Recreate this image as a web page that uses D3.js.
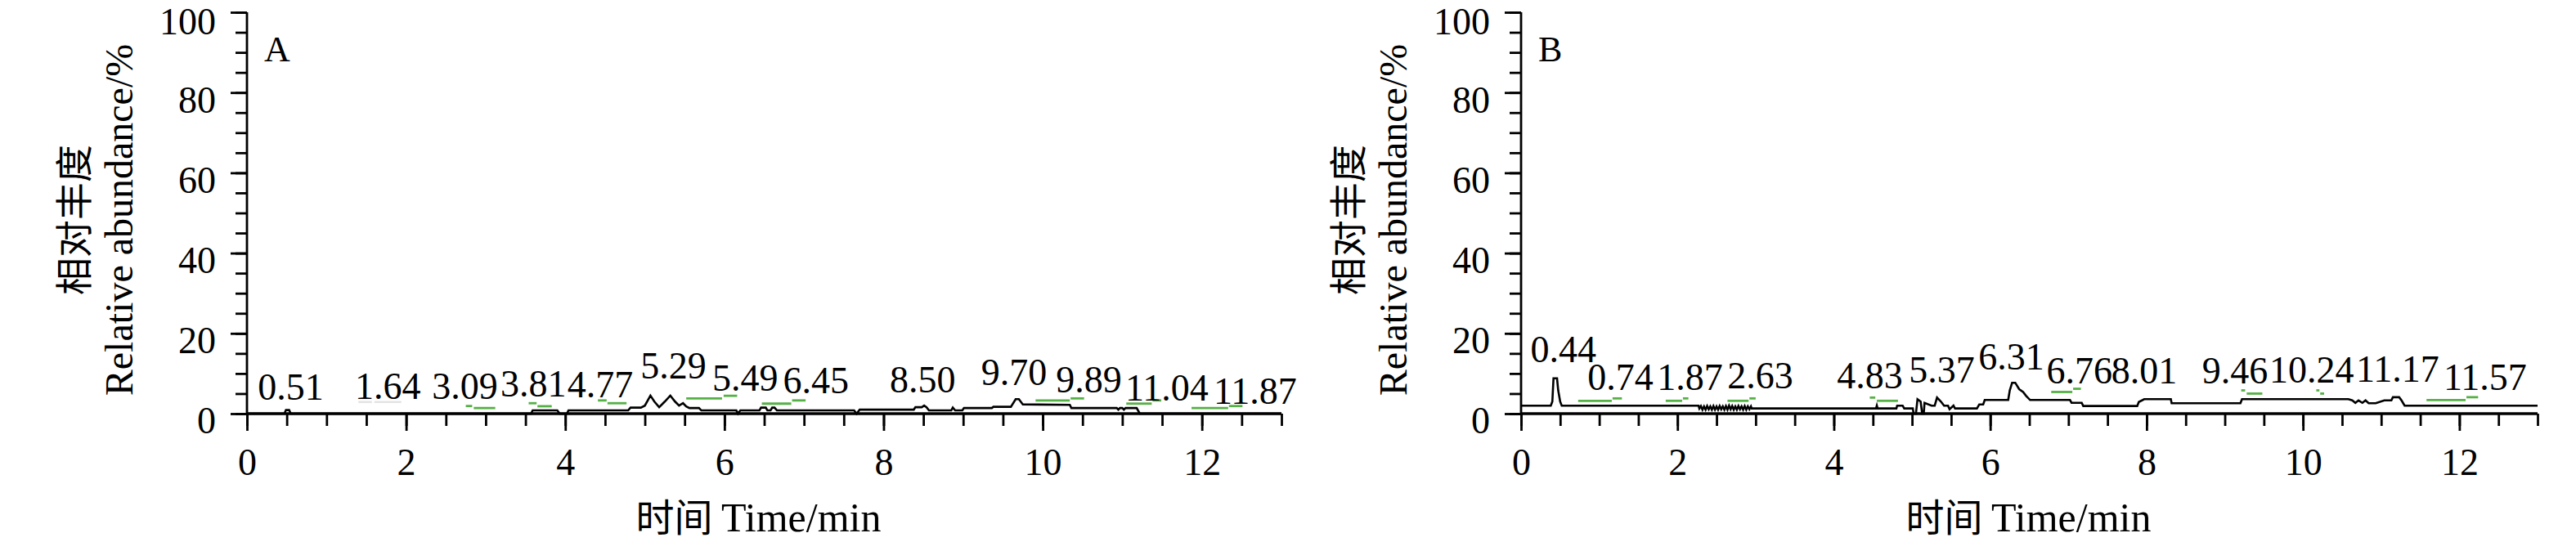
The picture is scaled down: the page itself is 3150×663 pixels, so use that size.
<!DOCTYPE html>
<html><head><meta charset="utf-8">
<script src="https://cdn.jsdelivr.net/npm/d3@7"></script>
<style>body{margin:0;background:#fff}svg{display:block}</style>
</head><body>
<svg id="c" width="3150" height="663"></svg>
<script>
// ---------- data ----------
const xMajorTicks = [0, 2, 4, 6, 8, 10, 12];
const yMajorTicks = [0, 20, 40, 60, 80, 100];
const xDomain = [0, 13];
const yDomain = [0, 100];

const traceA = [
  [0,0],[0.47,0],[0.49,0.9],[0.53,0.9],[0.55,0],[3.57,0],[3.59,0.8],[3.90,0.8],[3.93,0],[4.02,0],[4.04,0.8],
  [4.79,0.8],[4.82,1.5],[4.95,1.5],[5.00,2.0],[5.07,4.5],[5.12,3.0],[5.18,1.6],[5.25,3.0],[5.32,4.5],[5.38,3.0],
  [5.43,2.0],[5.48,2.6],[5.52,1.8],[5.56,1.4],[5.68,1.4],[5.71,0.8],[6.15,0.8],[6.17,0],[6.20,0.8],[6.44,0.8],
  [6.46,1.5],[6.52,1.5],[6.54,0.8],[6.58,0.8],[6.60,1.5],[6.63,1.5],[6.66,0.8],[7.63,0.8],[7.66,0],[7.70,1.0],
  [8.38,1.0],[8.40,1.6],[8.48,1.6],[8.51,2.0],[8.54,1.6],[8.57,0.8],[8.85,0.8],[8.87,1.5],[8.90,0.8],[8.99,0.8],
  [9.01,1.4],[9.36,1.4],[9.38,1.7],[9.60,1.7],[9.66,3.6],[9.70,3.6],[9.75,2.3],[10.34,2.2],[10.36,1.4],[10.93,1.4],
  [10.95,1.0],[10.97,1.4],[11.00,1.4],[11.02,1.0],[11.04,1.4],[11.18,1.4],[11.22,0],[13,0]
];
const traceB = [
  [0,2.0],[0.38,2.0],[0.40,3.0],[0.415,8.8],[0.46,8.8],[0.475,5.8],[0.50,3.0],[0.52,2.0],[2.27,2.0],[2.28,1.3],
  [2.30,1.9],[2.32,1.0],[2.34,1.8],[2.36,1.0],[2.38,1.9],[2.40,1.1],[2.42,1.8],[2.44,1.0],[2.46,1.9],[2.48,1.0],
  [2.50,1.8],[2.52,1.0],[2.54,1.9],[2.56,1.1],[2.58,1.8],[2.60,1.0],[2.62,1.9],[2.64,1.0],[2.66,2.0],[2.68,1.1],
  [2.70,1.9],[2.72,1.0],[2.74,1.8],[2.76,1.0],[2.78,1.9],[2.80,1.1],[2.82,1.8],[2.84,1.0],[2.86,1.9],[2.88,1.0],
  [2.90,1.8],[2.92,1.1],[2.94,1.8],[2.95,1.3],[4.54,1.3],[4.55,2.0],[4.56,1.3],[4.80,1.3],
  [4.81,2.0],[4.88,2.0],[4.90,1.3],[5.01,1.3],[5.02,0],[5.05,0],[5.07,3.6],[5.11,3.0],[5.13,0],[5.15,0],[5.16,2.7],
  [5.25,2.0],[5.29,2.0],[5.32,4.0],[5.37,3.0],[5.41,2.0],[5.46,2.0],[5.48,1.1],[5.53,2.0],[5.55,1.3],[5.83,1.3],
  [5.86,2.3],[5.91,2.3],[5.93,3.4],[6.23,3.4],[6.25,5.8],[6.28,7.7],[6.32,7.7],[6.37,6.1],[6.42,5.4],[6.46,4.4],
  [6.51,3.4],[7.02,3.4],[7.04,2.7],[7.17,2.7],[7.19,1.9],[7.88,1.9],[7.90,2.9],[7.97,3.6],[8.31,3.6],[8.32,2.6],
  [9.20,2.6],[9.22,3.6],[10.58,3.6],[10.63,3.3],[10.67,2.7],[10.71,3.3],[10.76,2.7],[10.80,3.3],[10.84,2.6],
  [10.93,2.6],[11.04,3.3],[11.13,3.3],[11.15,4.1],[11.23,4.1],[11.26,3.3],[11.30,2.0],[13,2.0]
];

// green integration markers: [start, end, level]
const markersA = [
  [2.75,2.83,1.9],[2.85,3.12,1.4],[3.54,3.64,2.6],[3.65,3.83,1.85],[4.41,4.52,3.3],[4.53,4.77,2.6],
  [5.52,5.97,3.8],[5.99,6.16,4.45],[6.47,6.84,2.5],[6.85,7.02,3.3],[9.91,10.34,3.3],[10.35,10.52,3.8],
  [11.05,11.37,2.5],[11.38,11.49,3.3],[11.87,12.33,1.4],[12.34,12.51,1.9]
];
const faintMarkersA = [[1.40,1.57,2.9],[1.60,1.94,2.9]];
const markersB = [
  [0.73,1.16,3.2],[1.17,1.29,3.8],[1.85,2.06,3.2],[2.07,2.14,3.8],[2.64,2.91,3.2],[2.92,3.00,3.8],
  [4.46,4.53,4.0],[4.55,4.82,3.2],[6.78,7.05,5.4],[7.06,7.16,6.2],[9.21,9.26,5.8],[9.28,9.48,5.0],
  [10.17,10.21,5.8],[10.22,10.27,5.0],[11.58,12.08,3.4],[12.09,12.24,4.1]
];

// peak labels: text, x (min), y (% baseline)
const labelTextA = ["0.51","1.64","3.09","3.81","4.77","5.29","5.49","6.45","8.50","9.70","9.89","11.04","11.87"];
const labelXA    = [0.55, 1.77, 2.74, 3.60, 4.44, 5.36, 6.26, 7.15, 8.49, 9.64, 10.58, 11.56, 12.67];
const labelYA    = [3.4, 3.6, 3.6, 4.3, 4.1, 8.8, 5.7, 5.0, 5.3, 7.1, 5.3, 3.2, 2.5];
const labelTextB = ["0.44","0.74","1.87","2.63","4.83","5.37","6.31","6.76","8.01","9.46","10.24","11.17","11.57"];
const labelXB    = [0.54, 1.27, 2.16, 3.06, 4.46, 5.38, 6.27, 7.14, 7.97, 9.13, 10.11, 11.21, 12.33];
const labelYB    = [12.9, 6.0, 6.0, 6.4, 6.4, 7.8, 11.0, 7.5, 7.5, 7.5, 7.7, 8.0, 6.0];

// ---------- drawing ----------
const svg = d3.select("#c");
svg.append("rect").attr("width",3150).attr("height",663).attr("fill","#fff");
const SERIF = "'Liberation Serif','Times New Roman',serif";
const CJK = "'Noto Sans CJK SC',sans-serif";
const GREEN = "#55b046";

function panel(opt){
  const x = d3.scaleLinear().domain(xDomain).range([opt.x0, opt.x1]);
  const y = d3.scaleLinear().domain(yDomain).range([506, 15]);
  const g = svg.append("g");

  // y axis
  const yMinor = d3.range(0, 101, 5);
  const yax = g.append("g").attr("transform",`translate(${opt.x0},0)`)
    .call(d3.axisLeft(y).tickValues(yMinor).tickSize(14).tickFormat(""));
  yax.select(".domain").remove();
  yax.selectAll("line").attr("stroke","#000").attr("stroke-width",2.8);
  const yaxM = g.append("g").attr("transform",`translate(${opt.x0},0)`)
    .call(d3.axisLeft(y).tickValues(yMajorTicks).tickSize(20).tickPadding(18));
  yaxM.select(".domain").remove();
  yaxM.selectAll("line").attr("stroke","#000").attr("stroke-width",2.8);
  yaxM.selectAll("text").attr("font-family",SERIF).attr("font-size",46).attr("fill","#000")
    .attr("dy",d=> d===100 ? "0.58em" : "0.52em");

  // x axis
  const xMinor = d3.range(0, 13.001, 0.5);
  const xax = g.append("g").attr("transform",`translate(0,${y(0)})`)
    .call(d3.axisBottom(x).tickValues(xMinor).tickSize(15).tickFormat(""));
  xax.select(".domain").remove();
  xax.selectAll("line").attr("stroke","#000").attr("stroke-width",2.8);
  const xaxM = g.append("g").attr("transform",`translate(0,${y(0)})`)
    .call(d3.axisBottom(x).tickValues(xMajorTicks).tickSize(21).tickPadding(54));
  xaxM.select(".domain").remove();
  xaxM.selectAll("line").attr("stroke","#000").attr("stroke-width",2.8);
  xaxM.selectAll("text").attr("font-family",SERIF).attr("font-size",46).attr("fill","#000").attr("dy","0");

  // axis lines
  g.append("line").attr("x1",x(0)).attr("x2",x(0)).attr("y1",y(100)).attr("y2",y(0))
    .attr("stroke","#000").attr("stroke-width",2.8);
  g.append("line").attr("x1",x(0)).attr("x2",x(13)).attr("y1",y(0)).attr("y2",y(0))
    .attr("stroke","#000").attr("stroke-width",3.6);

  // trace
  const line = d3.line().x(d=>x(d[0])).y(d=>y(d[1]));
  g.append("path").datum(opt.trace).attr("d",line).attr("fill","none")
    .attr("stroke","#000").attr("stroke-width",2.6).attr("stroke-linejoin","miter");

  // markers
  if (opt.faint) g.selectAll(null).data(opt.faint).join("line")
    .attr("x1",d=>x(d[0])).attr("x2",d=>x(d[1])).attr("y1",d=>y(d[2])).attr("y2",d=>y(d[2]))
    .attr("stroke","#e4e4e4").attr("stroke-width",2.6);
  g.selectAll(null).data(opt.markers).join("line")
    .attr("x1",d=>x(d[0])).attr("x2",d=>x(d[1])).attr("y1",d=>y(d[2])).attr("y2",d=>y(d[2]))
    .attr("stroke",GREEN).attr("stroke-width",2.8);

  // peak labels
  g.selectAll(null).data(opt.labels.text).join("text")
    .attr("x",(d,i)=>x(opt.labels.x[i])).attr("y",(d,i)=>y(opt.labels.y[i]))
    .attr("text-anchor","middle").attr("font-family",SERIF).attr("font-size",46).attr("fill","#000")
    .text(d=>d);

  // panel letter
  g.append("text").attr("x",opt.x0+21).attr("y",75).attr("font-family",SERIF).attr("font-size",44)
    .attr("fill","#000").text(opt.letter);

  // y title (two rotated lines)
  g.append("text").attr("transform",`translate(${opt.x0-215},269) rotate(-90)`)
    .attr("text-anchor","middle").attr("dominant-baseline","central")
    .attr("font-family",CJK).attr("font-size",46).attr("fill","#000").text("相对丰度");
  g.append("text").attr("transform",`translate(${opt.x0-157},269) rotate(-90)`)
    .attr("text-anchor","middle").attr("dominant-baseline","central")
    .attr("font-family",SERIF).attr("font-size",48).attr("fill","#000").text("Relative abundance/%");

  // x title
  const xt = g.append("text").attr("x",(x(0)+x(13))/2+opt.titleShift).attr("y",650).attr("text-anchor","middle")
    .attr("font-size",50).attr("fill","#000");
  xt.append("tspan").attr("font-family",CJK).attr("font-size",47).text("时间 ");
  xt.append("tspan").attr("font-family",SERIF).text("Time/min");
}

panel({x0:302, x1:1567, trace:traceA, markers:markersA, faint:faintMarkersA,
  labels:{text:labelTextA, x:labelXA, y:labelYA}, letter:"A", titleShift:-7});
panel({x0:1860, x1:3103, trace:traceB, markers:markersB,
  labels:{text:labelTextB, x:labelXB, y:labelYB}, letter:"B", titleShift:-1});
</script>
</body></html>
